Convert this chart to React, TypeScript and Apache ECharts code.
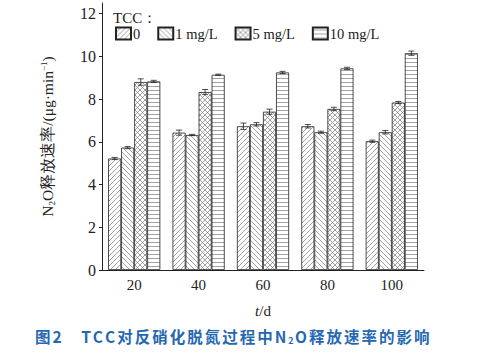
import React, { useEffect, useRef } from "react";
import * as echarts from "echarts";

const categories = ["20", "40", "60", "80", "100"];
const seriesNames = ["0", "1 mg/L", "5 mg/L", "10 mg/L"];
const values0 = [5.22, 6.43, 6.73, 6.73, 6.03];
const values1 = [5.73, 6.32, 6.82, 6.45, 6.45];
const values5 = [8.8, 8.33, 7.41, 7.54, 7.84];
const values10 = [8.83, 9.14, 9.25, 9.44, 10.15];
const err0 = [0.05, 0.12, 0.15, 0.08, 0.05];
const err1 = [0.05, 0.03, 0.08, 0.05, 0.08];
const err5 = [0.15, 0.12, 0.12, 0.08, 0.05];
const err10 = [0.05, 0.03, 0.05, 0.05, 0.1];
const yTicks = [0, 2, 4, 6, 8, 10, 12];
const captionHead = "图2　TCC对反硝化脱氮过程中N";
const captionSub = "2";
const captionTail = "O释放速率的影响";

const allValues = [values0, values1, values5, values10];
const allErr = [err0, err1, err5, err10];

function makePattern(kind: string): HTMLCanvasElement {
  const s = kind === "h" ? 4 : 5;
  const c = document.createElement("canvas");
  c.width = s;
  c.height = s;
  const ctx = c.getContext("2d")!;
  ctx.fillStyle = "#ffffff";
  ctx.fillRect(0, 0, s, s);
  ctx.strokeStyle = "#7a7a7a";
  ctx.lineWidth = 0.7;
  const line = (x1: number, y1: number, x2: number, y2: number) => {
    ctx.beginPath();
    ctx.moveTo(x1, y1);
    ctx.lineTo(x2, y2);
    ctx.stroke();
  };
  const slash = () => {
    line(-1, s + 1, s + 1, -1);
    line(-1, 1, 1, -1);
    line(s - 1, s + 1, s + 1, s - 1);
  };
  const back = () => {
    line(-1, -1, s + 1, s + 1);
    line(s - 1, -1, s + 1, 1);
    line(-1, s - 1, 1, s + 1);
  };
  if (kind === "/") slash();
  if (kind === "\\") back();
  if (kind === "x") {
    slash();
    back();
  }
  if (kind === "h") line(0, 2.5, s, 2.5);
  return c;
}

function spaced(text: string, style: string): string {
  return Array.from(text)
    .map((ch) => `{${style}|${ch}}`)
    .join("");
}

export default function App() {
  const ref = useRef<HTMLDivElement>(null);
  useEffect(() => {
    document.body.style.margin = "0";
    const chart = echarts.init(ref.current!, null, { renderer: "svg" });
    const kinds = ["/", "\\", "x", "h"];
    const serif = "Liberation Serif, Times New Roman, serif";
    const barSeries = seriesNames.map((name, i) => ({
      name,
      type: "bar",
      data: allValues[i],
      barGap: "0%",
      barCategoryGap: "19%",
      itemStyle: {
        color: { image: makePattern(kinds[i]), repeat: "repeat" },
        borderColor: "#222",
        borderWidth: 0.8,
      },
    }));
    const errData: number[][] = [];
    allValues.forEach((vals, si) =>
      vals.forEach((v, ci) => errData.push([ci, si, v, allErr[si][ci]]))
    );
    const errSeries = {
      type: "custom",
      data: errData,
      encode: { x: 0, y: 2 },
      z: 10,
      renderItem: (params: any, api: any) => {
        const ci = api.value(0);
        const si = api.value(1);
        const v = api.value(2);
        const e = api.value(3);
        const catW = api.size([1, 0])[0];
        const bw = (catW * 0.81) / 4;
        const top = api.coord([ci, v + e]);
        const bot = api.coord([ci, v - e]);
        const x = top[0] + (si - 1.5) * bw;
        const cap = 3;
        const st = { stroke: "#222", lineWidth: 0.8 };
        return {
          type: "group",
          children: [
            { type: "line", shape: { x1: x, y1: top[1], x2: x, y2: bot[1] }, style: st },
            { type: "line", shape: { x1: x - cap, y1: top[1], x2: x + cap, y2: top[1] }, style: st },
            { type: "line", shape: { x1: x - cap, y1: bot[1], x2: x + cap, y2: bot[1] }, style: st },
          ],
        };
      },
    };
    const capBase = { fontFamily: "Noto Sans CJK SC", fontSize: 15.5, fontWeight: "bold", fill: "#2668b0" };
    chart.setOption({
      animation: false,
      backgroundColor: "#ffffff",
      grid: { left: 102, right: 66, top: 3, bottom: 84 },
      legend: {
        data: seriesNames,
        left: 115,
        top: 26,
        padding: 0,
        itemWidth: 15,
        itemHeight: 12,
        itemGap: 17,
        textStyle: { fontFamily: serif, fontSize: 14.5, color: "#222", padding: [0, 0, 0, -3] },
        icon: "rect",
      },
      xAxis: {
        type: "category",
        data: categories,
        axisLine: { lineStyle: { color: "#222", width: 1 } },
        axisTick: { show: false },
        axisLabel: { fontFamily: serif, fontSize: 15, color: "#222", margin: 7 },
        name: "{i|t}{n|/d}",
        nameLocation: "middle",
        nameGap: 33,
        nameTextStyle: {
          rich: {
            i: { fontFamily: serif, fontSize: 15, fontStyle: "italic", color: "#222" },
            n: { fontFamily: serif, fontSize: 15, color: "#222" },
          },
        },
      },
      yAxis: {
        type: "value",
        min: 0,
        max: 12.5,
        interval: 2,
        splitLine: { show: false },
        axisLine: { show: true, lineStyle: { color: "#222", width: 1 } },
        axisTick: { show: true, length: 3, customValues: yTicks, lineStyle: { color: "#222" } },
        axisLabel: { fontFamily: serif, fontSize: 16, color: "#222", margin: 6, customValues: yTicks },
        name: "{a|N}{sub|2}{a|O释放速率/(μg·min}{sup|−1}{a|)}",
        nameLocation: "middle",
        nameGap: 46,
        nameRotate: 90,
        nameTextStyle: {
          rich: {
            a: { fontFamily: serif, fontSize: 15.5, color: "#222" },
            sub: { fontFamily: serif, fontSize: 9, color: "#222", verticalAlign: "bottom", padding: [8, 0, 0, 0] },
            sup: { fontFamily: serif, fontSize: 9, color: "#222", verticalAlign: "top", padding: [0, 0, 8, 0] },
          },
        },
      },
      series: [...barSeries, errSeries],
      graphic: [
        {
          type: "text",
          left: 113,
          top: 10,
          style: { text: "TCC：", font: "15px Liberation Serif", fill: "#222" },
        },
        {
          type: "text",
          left: 35,
          top: 328,
          style: {
            text: spaced(captionHead, "a") + `{s|${captionSub}}` + spaced(captionTail, "a"),
            rich: {
              a: { ...capBase, padding: [0, 2, 0, 0] },
              s: { ...capBase, fontSize: 9, padding: [9, 1.5, 0, 0] },
            },
          },
        },
      ],
    });
    return () => chart.dispose();
  }, []);
  return <div ref={ref} style={{ width: 490, height: 354 }} />;
}
